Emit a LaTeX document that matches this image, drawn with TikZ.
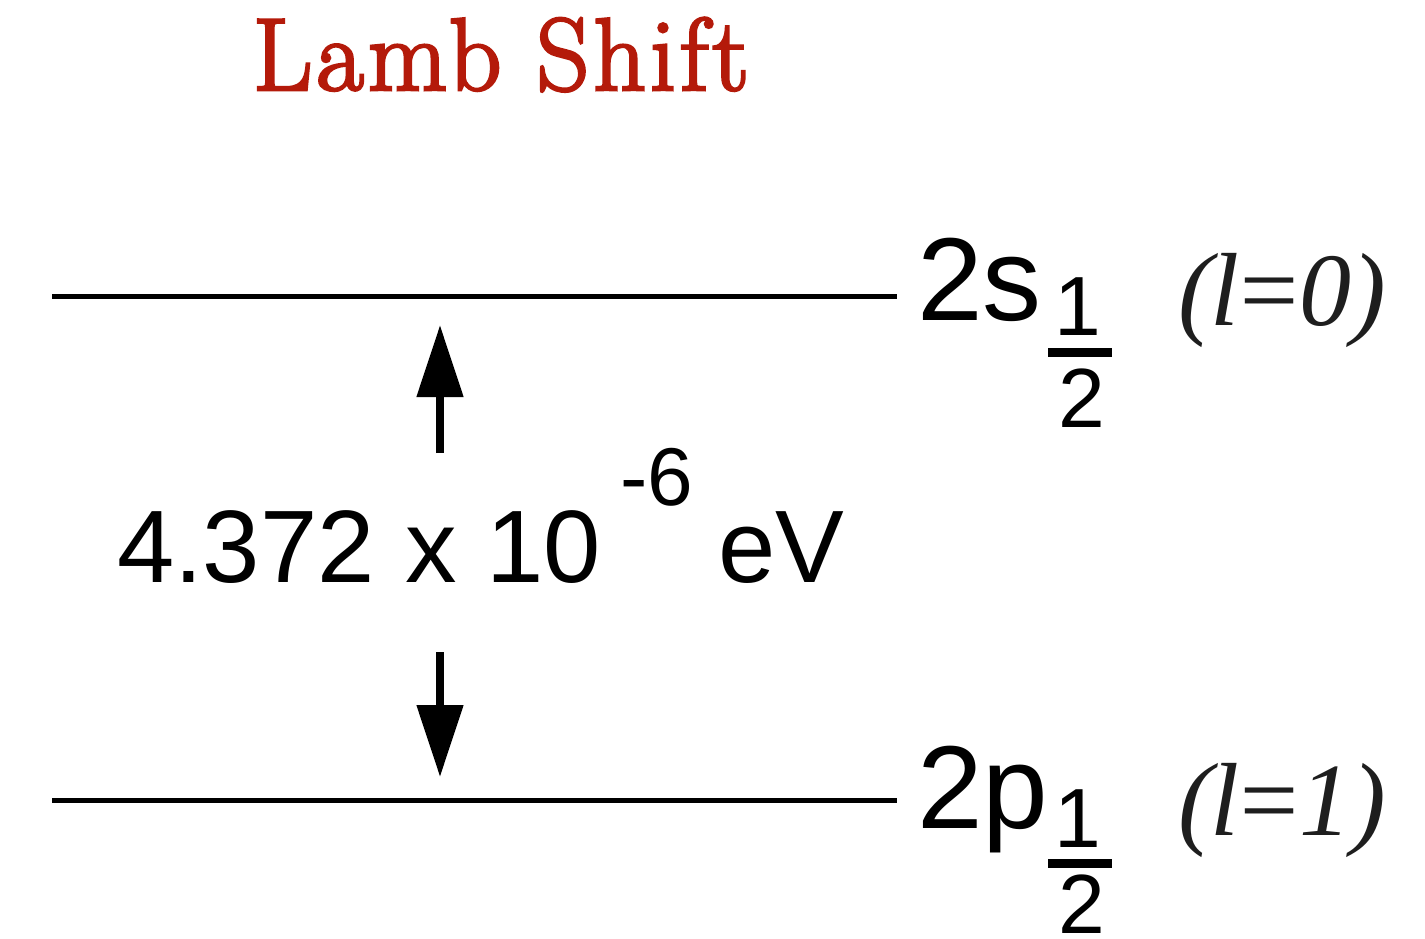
\documentclass[tikz,border=0pt]{standalone}
\usepackage{fontspec}
\usetikzlibrary{arrows.meta}
\newfontfamily\labsans{Liberation Sans}
\newfontfamily\labserif{Liberation Serif}
\newfontfamily\titlefont{Latin Modern Roman}[FakeBold=2.8,LetterSpace=4]
\definecolor{titlered}{RGB}{180,26,10}
\definecolor{quantgray}{RGB}{30,30,30}
\tikzset{
  txt/.style={inner sep=0pt, outer sep=0pt, anchor=base},
  level/.style={line width=5pt, black},
  gaparrow/.style={line width=8pt, black, -{Triangle[length=72pt,width=45pt]}},
  fracbar/.style={line width=9pt, black},
  bigsans/.style={font=\labsans\fontsize{118}{120}\selectfont},
  fracsans/.style={font=\labsans\fontsize{84}{86}\selectfont},
  exposans/.style={font=\labsans\fontsize{82}{84}\selectfont},
  midsans/.style={font=\labsans\fontsize{103}{106}\selectfont},
  quant/.style={font=\labserif\itshape\fontsize{104}{108}\selectfont, text=quantgray},
}
\begin{document}
\begin{tikzpicture}[x=1pt,y=-1pt]
\useasboundingbox (0,0) rectangle (1425,939);
\fill[white] (0,0) rectangle (1425,939);
% title
\node[txt, text=titlered, font=\titlefont\fontsize{103}{106}\selectfont] (title) at (501,90) {Lamb Shift};
% levels
\coordinate (s0) at (52,296);
\coordinate (s1) at (897,296);
\coordinate (p0) at (52,800);
\coordinate (p1) at (897,800);
\draw[level] (s0) -- (s1);
\draw[level] (p0) -- (p1);
% level labels
\node[txt, anchor=base west, bigsans] (lab2s) at (917,320) {2s};
\node[txt, fracsans] (s1num) at (1078,335) {1};
\coordinate (sb0) at (1048,352);
\coordinate (sb1) at (1112,352);
\draw[fracbar] (sb0) -- (sb1);
\node[txt, fracsans] (s1den) at (1082,427) {2};
\node[txt, anchor=base west, quant] (ql0) at (1178,325) {(\kern-2pt l\kern-6pt =\kern-4pt 0)};

\node[txt, anchor=base west, bigsans] (lab2p) at (917,828) {2p};
\node[txt, fracsans] (p1num) at (1078,847) {1};
\coordinate (pb0) at (1048,863);
\coordinate (pb1) at (1112,863);
\draw[fracbar] (pb0) -- (pb1);
\node[txt, fracsans] (p1den) at (1082,933) {2};
\node[txt, anchor=base west, quant] (ql1) at (1178,835) {(\kern-2pt l\kern-6pt =\kern-4pt 1)};
% gap label
\node[txt, anchor=base west, midsans] (gap) at (117,582) {4.372\kern31pt x\kern29pt 10};
\node[txt, anchor=base west, exposans] (expo) at (620,505) {-6};
\node[txt, anchor=base west, midsans] (unit) at (718,582) {eV};
% arrows
\coordinate (upTail) at (440,453);
\coordinate (upTip) at (440,325);
\coordinate (dnTail) at (440,652);
\coordinate (dnTip) at (440,777);
\draw[gaparrow] (upTail) -- (upTip);
\draw[gaparrow] (dnTail) -- (dnTip);
\end{tikzpicture}
\end{document}
